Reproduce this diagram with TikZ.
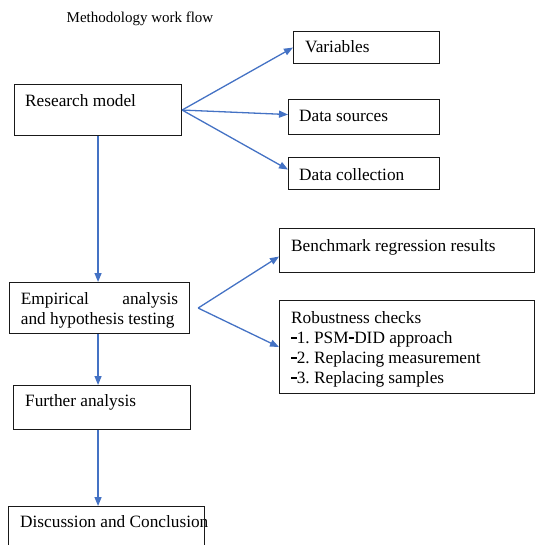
\documentclass[tikz,border=0pt]{standalone}
\usepackage{graphicx}
\usepackage{fontspec}
\setmainfont{Liberation Serif}
\usetikzlibrary{arrows.meta,calc}
\definecolor{flowblue}{RGB}{68,114,196}
% heavy hyphen used in the list items
\newcommand\heavydash{\rule[4.6pt]{5.6pt}{1.9pt}}
\begin{document}
\begin{tikzpicture}[x=1pt,y=-1pt,
  box/.style={draw=black!90, line width=1.1pt, inner sep=0pt, anchor=north west},
  txt/.style={inner sep=0pt, anchor=base west, font=\fontsize{17.28}{20}\selectfont},
  flow/.style={draw=flowblue, line width=1.3pt, -{Triangle[length=9pt,width=7pt]}}]
\useasboundingbox (0,0) rectangle (536,545);

% texts inside the boxes
\node[txt] (rmt)  at (25,107)  {Research model};
\node[txt] (vart) at (305,53)  {Variables};
\node[txt] (dst)  at (299,121.5) {Data sources};
\node[txt] (dct)  at (299,180.5) {Data collection};
\node[txt] (empa) at (20.7,304.3) {Empirical};
\node[txt, anchor=base east] (empb) at (178.3,304.3) {analysis};
\node[txt] (empc) at (20.7,324.3) {and hypothesis testing};
\node[txt] (bmt)  at (291,251.5) {Benchmark regression results};
\node[txt] (rob0) at (291,323.3) {Robustness checks};
\node[txt] (rob1) at (291,343.3) {\heavydash1.\ PSM\heavydash DID approach};
\node[txt] (rob2) at (291,363.3) {\heavydash2.\ Replacing measurement};
\node[txt] (rob3) at (291,383.3) {\heavydash3.\ Replacing samples};
\node[txt] (fat)  at (25,406.5) {Further analysis};
\node[txt] (dcnt) at (20,527.5) {Discussion and Conclusion};

% heading, set in the same face and scaled down
\node[txt, anchor=base] (title) at (140,23) {\scalebox{0.868}{Methodology work flow}};

% boxes
\node[box, minimum width=167pt, minimum height=51pt] (rm)  at (14,84) {};
\node[box, minimum width=146pt, minimum height=32pt] (var) at (293,31) {};
\node[box, minimum width=151pt, minimum height=35pt] (ds)  at (288,99) {};
\node[box, minimum width=151pt, minimum height=32pt] (dc)  at (288,157) {};
\node[box, minimum width=180pt, minimum height=51pt] (emp) at (9,282) {};
\node[box, minimum width=255pt, minimum height=44pt] (bm)  at (279,228) {};
\node[box, minimum width=255pt, minimum height=93pt] (rob) at (279,300) {};
\node[box, minimum width=177pt, minimum height=44pt] (fa)  at (13,385) {};
\node[box, minimum width=196pt, minimum height=60pt] (dcn) at (8,506) {};

% connectors
\coordinate (split) at ([xshift=8pt]emp.east);
\draw[flow] (rm.east) -- (var.west);
\draw[flow] (rm.east) -- ([yshift=2.5pt]ds.west);
\draw[flow] (rm.east) -- ([yshift=4pt]dc.west);
\draw[flow] (rm.south) -- (rm.south |- emp.north);
\draw[flow] (split) -- ([yshift=-6pt]bm.west);
\draw[flow] (split) -- (rob.west);
\draw[flow] (rm.south |- emp.south) -- (rm.south |- fa.north);
\draw[flow] (rm.south |- fa.south) -- (rm.south |- dcn.north);
\end{tikzpicture}
\end{document}
